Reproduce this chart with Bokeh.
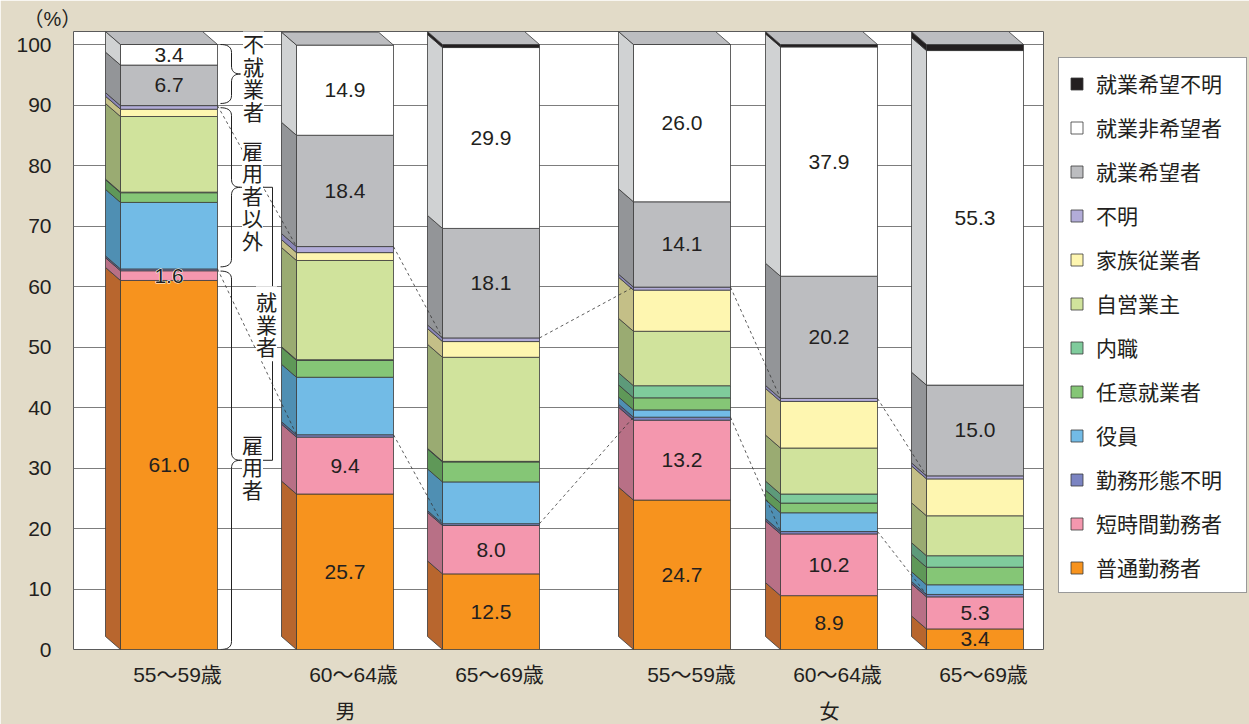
import numpy as np
from bokeh.plotting import figure
from bokeh.models import (Range1d, FixedTicker, Legend, LegendItem, LinearAxis,
                          ColumnDataSource)
from bokeh.core.properties import value
from bokeh.embed import file_html
from bokeh.resources import INLINE

# ---------------- data (percent of each age/sex group) ----------------
age_labels = ["55～59歳", "60～64歳", "65～69歳", "55～59歳", "60～64歳", "65～69歳"]
sex_labels = ["男", "女"]

series_names = ["普通勤務者", "短時間勤務者", "勤務形態不明", "役員", "任意就業者", "内職",
                "自営業主", "家族従業者", "不明", "就業希望者", "就業非希望者", "就業希望不明"]

futsu        = [61.0, 25.7, 12.5, 24.7,  8.9,  3.4]
tanjikan     = [ 1.6,  9.4,  8.0, 13.2, 10.2,  5.3]
kinmu_fumei  = [ 0.3,  0.4,  0.3,  0.5,  0.4,  0.4]
yakuin       = [11.0,  9.5,  6.9,  1.2,  3.1,  1.6]
nini         = [ 1.6,  2.8,  3.3,  2.0,  1.6,  2.9]
naishoku     = [ 0.1,  0.1,  0.1,  2.0,  1.5,  1.9]
jiei         = [12.5, 16.4, 17.2,  9.0,  7.6,  6.6]
kazoku       = [ 1.2,  1.3,  2.6,  6.8,  7.7,  6.1]
fumei        = [ 0.6,  1.0,  0.6,  0.5,  0.5,  0.5]
kibou        = [ 6.7, 18.4, 18.1, 14.1, 20.2, 15.0]
hikibou      = [ 3.4, 14.9, 29.9, 26.0, 37.9, 55.3]
kibou_fumei  = [ 0.0,  0.0,  0.5,  0.0,  0.4,  1.0]

values = [futsu, tanjikan, kinmu_fumei, yakuin, nini, naishoku,
          jiei, kazoku, fumei, kibou, hikibou, kibou_fumei]
labelled = {"普通勤務者", "短時間勤務者", "就業希望者", "就業非希望者"}

y_ticks = list(range(0, 101, 10))

# ---------------- styling ----------------
front_colors = ["#f7931e", "#f497ae", "#7b84c2", "#72bbe6", "#85c676", "#7fcb9c",
                "#d0e39c", "#fef6b0", "#b2acd8", "#bcbdc0", "#ffffff", "#231f20"]
side_colors = ["#b8662e", "#b87086", "#5a6090", "#4f8fb3", "#5f9858", "#5d9a7a",
               "#9aab72", "#c4bf87", "#8a86b5", "#939598", "#d0d2d3", "#231f20"]
top_color = "#bcbdc0"
edge = "#3a3a3a"
ink = "#231f20"
bg = "#e2dbc8"
num_font = value("Liberation Sans")
cjk_font = value("Noto Sans CJK JP")
mixed_font = 'Liberation Sans, "Noto Sans CJK JP"'

# ---------------- layout ----------------
W, H = 1249, 724
FRAME_L, FRAME_T, FRAME_W, FRAME_H = 73, 31, 970, 618
BAR_LEFT = [47, 223, 369, 560, 707, 853]   # front-face left edges (px from frame left)
BAR_W = 97
DX = 15                                     # depth offset to the left (px)
DY = 2.15                                   # depth rise (percent units, ~13px)
Y_TOP = 100 + DY
SY = FRAME_H / Y_TOP                        # px per percent

p = figure(frame_width=FRAME_W, frame_height=FRAME_H,
           x_range=Range1d(0, FRAME_W), y_range=Range1d(0, Y_TOP),
           output_backend="svg", toolbar_location=None,
           min_border_left=FRAME_L, min_border_right=W - FRAME_L - FRAME_W,
           min_border_top=FRAME_T, min_border_bottom=H - FRAME_T - FRAME_H)
p.background_fill_color = "white"
p.border_fill_color = bg
p.outline_line_color = "#5a5a5a"
p.outline_line_width = 1

# unit caption above the value axis
p.title.text = "（%）"
p.title.text_font = mixed_font
p.title.text_font_size = "20px"
p.title.text_font_style = "normal"
p.title.text_color = ink
p.title.align = "left"
p.title.offset = -50
p.title.standoff = 3

p.xgrid.grid_line_color = None
p.ygrid.ticker = FixedTicker(ticks=y_ticks)
p.ygrid.grid_line_color = "#7d7d7d"
p.ygrid.grid_line_width = 1

p.yaxis.ticker = FixedTicker(ticks=y_ticks)
p.yaxis.axis_line_color = None
p.yaxis.major_tick_line_color = None
p.yaxis.minor_tick_line_color = None
p.yaxis.major_label_text_font = "Liberation Sans"
p.yaxis.major_label_text_font_size = "21px"
p.yaxis.major_label_text_color = ink
p.yaxis.major_label_standoff = 16

centers = [L + BAR_W / 2 for L in BAR_LEFT]
xticks = [int(round(c + 9)) for c in centers]
p.xaxis.ticker = FixedTicker(ticks=xticks)
p.xaxis.major_label_overrides = {t: lab for t, lab in zip(xticks, age_labels)}
p.xaxis.axis_line_color = None
p.xaxis.major_tick_line_color = None
p.xaxis.minor_tick_line_color = None
p.xaxis.major_label_text_font = mixed_font
p.xaxis.major_label_text_font_size = "21px"
p.xaxis.major_label_text_color = ink
p.xaxis.major_label_standoff = 7

# second row of category labels: sex
sex_ticks = [int(round(centers[1])), int(round(centers[4]))]
sex_axis = LinearAxis(ticker=FixedTicker(ticks=sex_ticks),
                      major_label_overrides={t: s for t, s in zip(sex_ticks, sex_labels)},
                      axis_line_color=None, major_tick_line_color=None,
                      minor_tick_line_color=None, major_label_standoff=6,
                      major_label_text_font=mixed_font,
                      major_label_text_font_size="20px", major_label_text_color=ink)
p.add_layout(sex_axis, "below")

# ---------------- stacked 3-D bars ----------------
vals = np.array(values, dtype=float)
tops = np.cumsum(vals, axis=0)
bottoms = tops - vals

front_renderers = []
for k, name in enumerate(series_names):
    idx = [j for j in range(vals.shape[1]) if vals[k, j] > 0]
    side = dict(
        xs=[[BAR_LEFT[j], BAR_LEFT[j], BAR_LEFT[j] - DX, BAR_LEFT[j] - DX] for j in idx],
        ys=[[bottoms[k, j], tops[k, j], tops[k, j] + DY, bottoms[k, j] + DY] for j in idx],
    )
    p.patches("xs", "ys", source=ColumnDataSource(side), fill_color=side_colors[k],
              line_color=edge, line_width=0.8)
    front = dict(
        left=[BAR_LEFT[j] for j in idx], right=[BAR_LEFT[j] + BAR_W for j in idx],
        bottom=[bottoms[k, j] for j in idx], top=[tops[k, j] for j in idx],
    )
    r = p.quad(left="left", right="right", bottom="bottom", top="top",
               source=ColumnDataSource(front), fill_color=front_colors[k],
               line_color=edge, line_width=0.8)
    front_renderers.append(r)

# top faces
bar_top = tops[-1]
p.patches(xs=[[L, L + BAR_W, L + BAR_W - DX, L - DX] for L in BAR_LEFT],
          ys=[[t, t, t + DY, t + DY] for t in bar_top],
          fill_color=top_color, line_color=edge, line_width=0.8)

# ---------------- dashed connectors (employees / employed totals) ----------------
employee_top = tops[2]
employed_top = tops[8]
x0s, y0s, x1s, y1s = [], [], [], []
for level in (employee_top, employed_top):
    for j in range(len(BAR_LEFT) - 1):
        x0s.append(BAR_LEFT[j] + BAR_W); y0s.append(level[j])
        x1s.append(BAR_LEFT[j + 1]);     y1s.append(level[j + 1])
p.segment(x0s, y0s, x1s, y1s, line_color="#333333", line_width=0.8, line_dash="3 3")

# ---------------- value labels ----------------
lx, ly, lt, hx, hy, ht = [], [], [], [], [], []
for k, name in enumerate(series_names):
    if name not in labelled:
        continue
    for j in range(vals.shape[1]):
        v = vals[k, j]
        if v <= 0:
            continue
        x = centers[j]
        y = bottoms[k, j] + v / 2
        lx.append(x); ly.append(y); lt.append(f"{v:.1f}")
        if j == 0 and v < 5:          # thin segments get a white halo
            hx.append(x); hy.append(y); ht.append(f"{v:.1f}")
p.text(hx, hy, text=ht, text_font=num_font, text_font_size="21px", text_color="white",
       text_align="center", text_baseline="middle", text_outline_color="white")
p.text(lx, ly, text=lt, text_font=num_font, text_font_size="21px", text_color=ink,
       text_align="center", text_baseline="middle")

# ---------------- braces beside the first bar ----------------
def qbez(a, c, b, n=10):
    t = np.linspace(0, 1, n)
    xs = (1 - t) ** 2 * a[0] + 2 * (1 - t) * t * c[0] + t ** 2 * b[0]
    ys = (1 - t) ** 2 * a[1] + 2 * (1 - t) * t * c[1] + t ** 2 * b[1]
    return list(xs), list(ys)

def brace(y_hi, y_lo, x_end=147, x_spine=158, x_tip=167, r_px=8):
    r = r_px / SY
    ym = (y_hi + y_lo) / 2
    xs, ys = [], []
    for a, c, b in [((x_end, y_hi), (x_spine, y_hi), (x_spine, y_hi - r)),
                    ((x_spine, ym + r), (x_spine, ym), (x_tip, ym)),
                    ((x_tip, ym), (x_spine, ym), (x_spine, ym - r)),
                    ((x_spine, y_lo + r), (x_spine, y_lo), (x_end, y_lo))]:
        bx, by = qbez(a, c, b)
        xs += bx; ys += by
    return xs, ys, ym

gap = 0.35
b1 = brace(bar_top[0], employed_top[0] + gap)
b2 = brace(employed_top[0] - gap, employee_top[0] + gap)
b3 = brace(employee_top[0] - gap, 0)
p.multi_line([b1[0], b2[0], b3[0]], [b1[1], b2[1], b3[1]], line_color="#222222", line_width=1)

# square bracket joining the two employed sub-groups
BR_X = 199
p.line([167, BR_X, BR_X, 167], [b2[2], b2[2], b3[2], b3[2]], line_color="#222222", line_width=1)

vt_x = [180, 179, 193, 179]
vt_y = [b1[2] - 0.5, b2[2] - 1.2, (b2[2] + b3[2]) / 2, b3[2] - 1.0]
vt_t = ["\n".join("不就業者"), "\n".join("雇用者以外"), "\n".join("就業者"), "\n".join("雇用者")]
p.text(vt_x, vt_y, text=vt_t, text_font=cjk_font, text_font_size="21px", text_color=ink,
       text_align="center", text_baseline="middle", text_line_height=0.75,
       background_fill_color="white")

# ---------------- legend (right-hand panel) ----------------
items = [LegendItem(label=series_names[k], renderers=[front_renderers[k]])
         for k in range(len(series_names) - 1, -1, -1)]
legend = Legend(items=items, location=(15, 56), orientation="vertical",
                label_text_font="Noto Sans CJK JP", label_text_font_size="21px",
                label_text_color=ink, glyph_width=15, glyph_height=15, label_standoff=12,
                label_width=140, label_height=21, spacing=14, padding=10, margin=0,
                border_line_color="#333333", border_line_width=1,
                background_fill_color="white", background_fill_alpha=1)
p.add_layout(legend, "right")

open("out.html", "w").write(file_html(p, INLINE))
